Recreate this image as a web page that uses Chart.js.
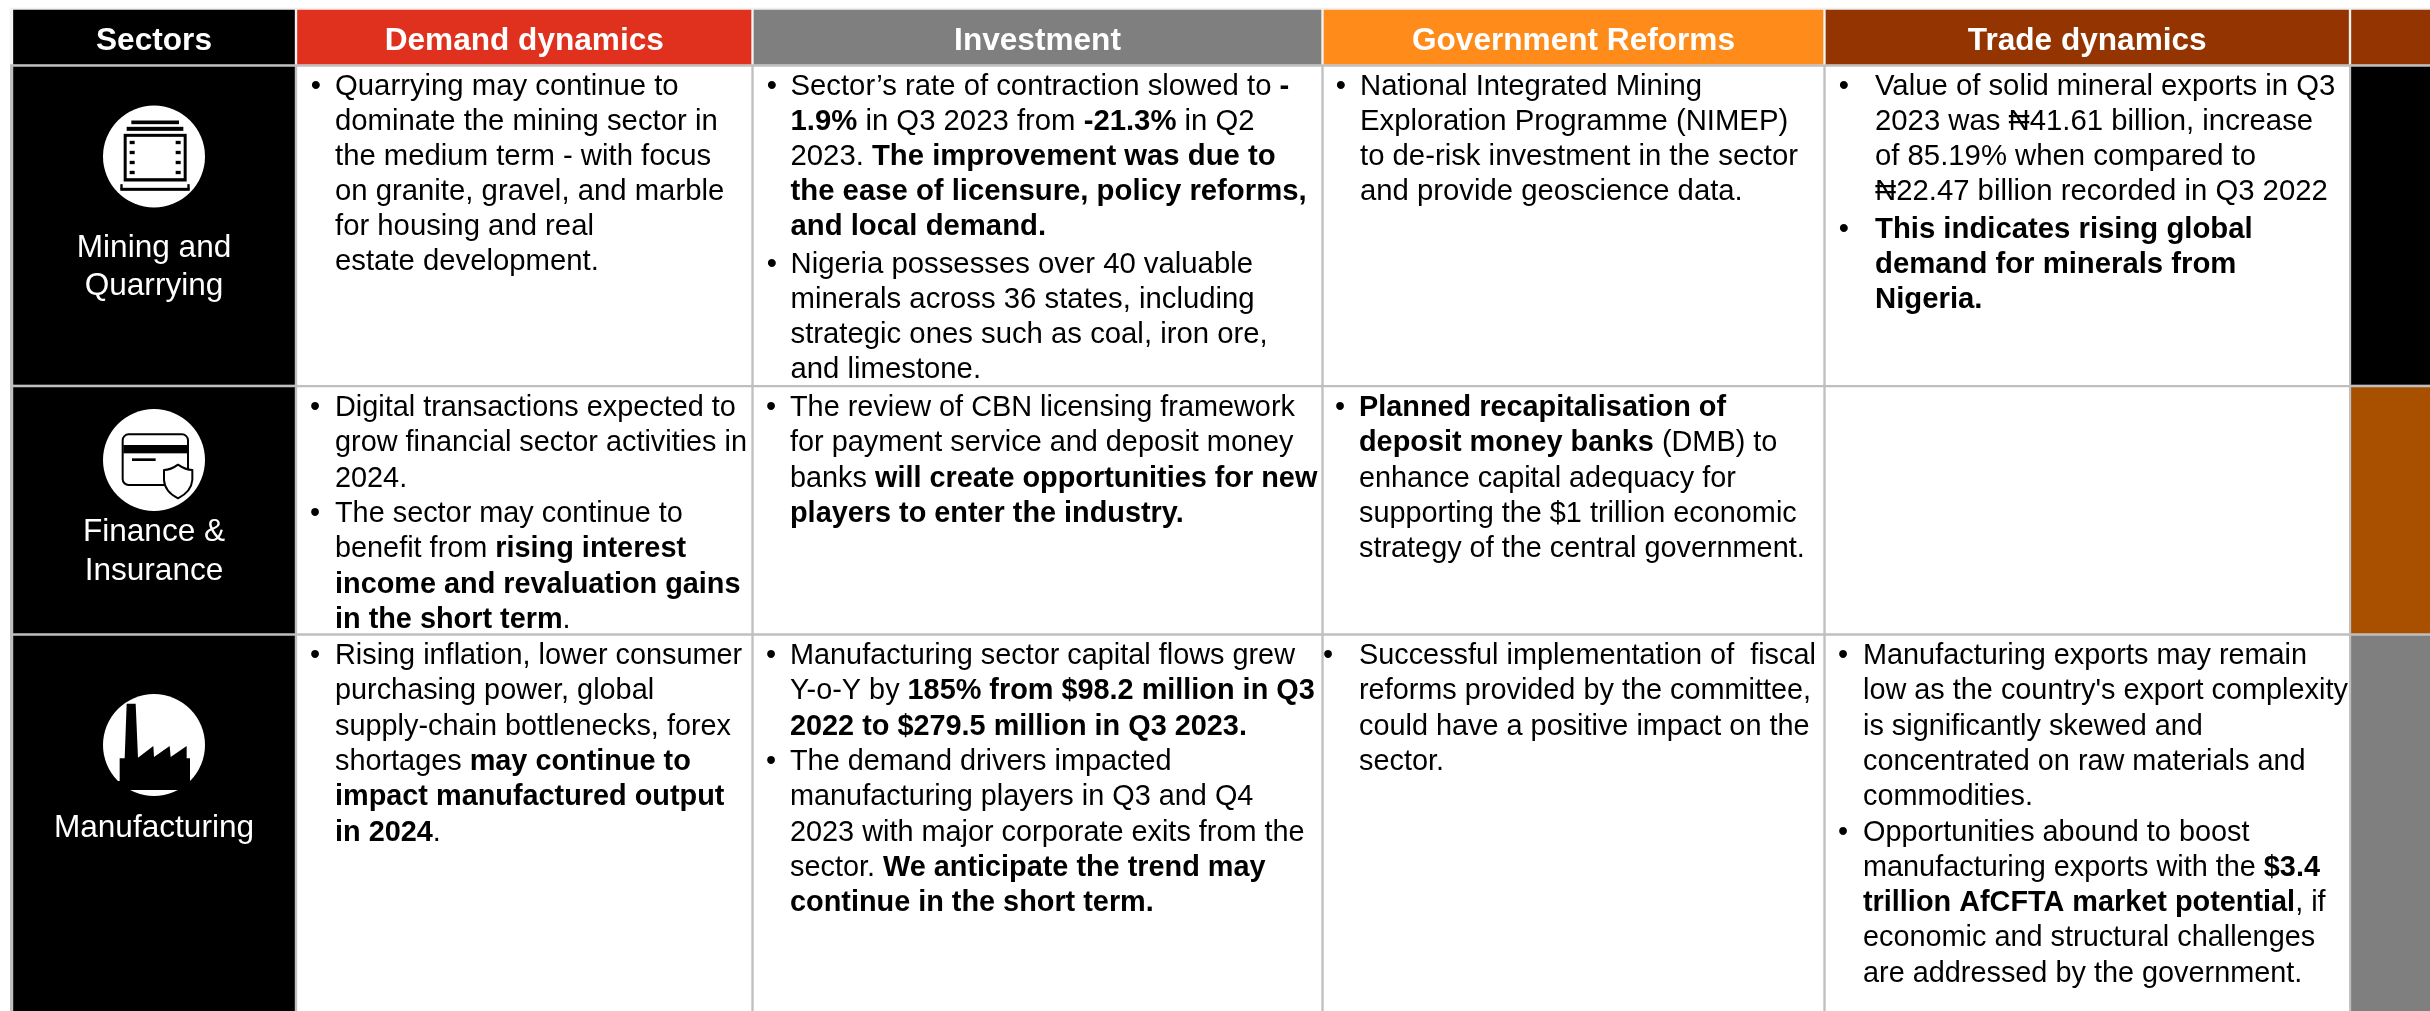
<!DOCTYPE html>
<html>
<head>
<meta charset="utf-8">
<title>Sector outlook</title>
<style>
  html, body { margin: 0; padding: 0; background: #fff; overflow: hidden; }
  canvas { display: block; }
</style>
<script src="https://cdn.jsdelivr.net/npm/chart.js@4"></script>
</head>
<body>
<canvas id="sectorTable" width="2430" height="1011"></canvas>
<script>
const columnHeaders = ["Sectors", "Demand dynamics", "Investment", "Government Reforms", "Trade dynamics", ""];

const sectorNames = [
  ["Mining and", "Quarrying"],
  ["Finance &", "Insurance"],
  ["Manufacturing"],
];

// each cell is a list of bullets, each bullet a list of lines, **x** is bold
const demandCells = [
  [["Quarrying may continue to", "dominate the mining sector in", "the medium term - with focus", "on granite, gravel, and marble", "for housing and real", "estate development."]],
  [["Digital transactions expected to", "grow financial sector activities in", "2024."],
   ["The sector may continue to", "benefit from **rising interest**", "**income and revaluation gains**", "**in the short term**."]],
  [["Rising inflation, lower consumer", "purchasing power, global", "supply-chain bottlenecks, forex", "shortages **may continue to**", "**impact manufactured output**", "**in 2024**."]],
];

const investmentCells = [
  [["Sector’s rate of contraction slowed to **-**", "**1.9%** in Q3 2023 from **-21.3%** in Q2", "2023. **The improvement was due to**", "**the ease of licensure, policy reforms,**", "**and local demand.**"],
   ["Nigeria possesses over 40 valuable", "minerals across 36 states, including", "strategic ones such as coal, iron ore,", "and limestone."]],
  [["The review of CBN licensing framework", "for payment service and deposit money", "banks **will create opportunities for new**", "**players to enter the industry.**"]],
  [["Manufacturing sector capital flows grew", "Y-o-Y by **185% from $98.2 million in Q3**", "**2022 to $279.5 million in Q3 2023.**"],
   ["The demand drivers impacted", "manufacturing players in Q3 and Q4", "2023 with major corporate exits from the", "sector. **We anticipate the trend may**", "**continue in the short term.**"]],
];

const reformCells = [
  [["National Integrated Mining", "Exploration Programme (NIMEP)", "to de-risk investment in the sector", "and provide geoscience data."]],
  [["**Planned recapitalisation of**", "**deposit money banks** (DMB) to", "enhance capital adequacy for", "supporting the $1 trillion economic", "strategy of the central government."]],
  [["Successful implementation of  fiscal", "reforms provided by the committee,", "could have a positive impact on the", "sector."]],
];

const tradeCells = [
  [["Value of solid mineral exports in Q3", "2023 was ₦41.61 billion, increase", "of 85.19% when compared to", "₦22.47 billion recorded in Q3 2022"],
   ["**This indicates rising global**", "**demand for minerals from**", "**Nigeria.**"]],
  [],
  [["Manufacturing exports may remain", "low as the country's export complexity", "is significantly skewed and", "concentrated on raw materials and", "commodities."],
   ["Opportunities abound to boost", "manufacturing exports with the **$3.4**", "**trillion AfCFTA market potential**, if", "economic and structural challenges", "are addressed by the government."]],
];

// layout of the table, in scale units
const columnEdges = [12, 296, 752.5, 1322.5, 1824.5, 2350, 2430];
const rowEdges = [10, 65.5, 386, 634.5, 1011];
const headerColors = ["#000000", "#e0301e", "#7f7f7f", "#ff8c1a", "#933401", "#933401"];
const sideColors = ["#000000", "#a94f00", "#7f7f7f"];
const lineGrey = "#bfbfbf";
const fontFamily = "'Liberation Sans', Arial, sans-serif";

const bodySizes = [29.3, 28.85, 28.85];
const nameSize = 31.6;
const firstBaselines = [95, 416, 664];
const linePitches = [35, 35.3, 35.3];
const bulletGaps = [3.4, 0, 0];
// text and bullet start per column (rows differ a little in the source)
const textStarts = [[335, 335, 335], [790.5, 790, 790], [1360, 1359, 1359], [1875, 0, 1863]];
const bulletCentres = [[316, 315, 315], [772, 771, 771], [1341, 1340, 1328], [1844, 0, 1843]];
const circleCentres = [{ x: 154, y: 156.5 }, { x: 154, y: 460 }, { x: 154, y: 745 }];
const nameBaselines = [[257, 295], [541, 580], [837]];

const centre = (i) => (columnEdges[i] + columnEdges[i + 1]) / 2;
const span = (i) => columnEdges[i + 1] - columnEdges[i];

function cellDataset(i, bodyColor) {
  const colors = [headerColors[i]].concat(bodyColor ? [bodyColor, bodyColor, bodyColor] : sideColors);
  const isLast = i === columnEdges.length - 2;
  return {
    type: "bar",
    data: colors.map((c, r) => ({
      x: isLast ? centre(i) + 0.75 : centre(i),
      y: [
        r === 0 ? rowEdges[0] : rowEdges[r] + 1.5,
        r === colors.length - 1 ? rowEdges[r + 1] : rowEdges[r + 1] - 1.5,
      ],
    })),
    backgroundColor: colors,
    barThickness: isLast ? span(i) - 1.5 : span(i) - 3,
    grouped: false,
    clip: false,
    order: 1,
  };
}

const datasets = [
  // sector icons sit on white discs
  {
    type: "scatter",
    data: circleCentres,
    pointRadius: 51,
    pointHoverRadius: 51,
    pointBackgroundColor: "#fff",
    pointBorderWidth: 0,
    order: 0,
  },
  cellDataset(0, "#000000"),
  cellDataset(1, "#ffffff"),
  cellDataset(2, "#ffffff"),
  cellDataset(3, "#ffffff"),
  cellDataset(4, "#ffffff"),
  cellDataset(5, null),
  // pale band behind the header row, the grid is hidden there
  {
    type: "bar",
    data: [{ x: 1220, y: [8, 10] }, { x: 1220, y: [10, 64] }],
    backgroundColor: ["#f0f0f0", "#f6f4f2"],
    barThickness: 2420,
    grouped: false,
    clip: false,
    order: 2,
  },
];

function drawRuns(ctx, line, x, y, size) {
  line.split("**").forEach((run, i) => {
    if (!run) return;
    ctx.font = (i % 2 ? "bold " : "") + size + "px " + fontFamily;
    ctx.fillText(run, x, y);
    x += ctx.measureText(run).width;
  });
}

function drawCells(ctx, scales, cells, col) {
  cells.forEach((bullets, r) => {
    let y = firstBaselines[r];
    bullets.forEach((lines) => {
      ctx.font = bodySizes[r] + "px " + fontFamily;
      ctx.textAlign = "center";
      ctx.fillText("•", scales.x.getPixelForValue(bulletCentres[col][r]), scales.y.getPixelForValue(y));
      ctx.textAlign = "left";
      lines.forEach((line) => {
        drawRuns(ctx, line, scales.x.getPixelForValue(textStarts[col][r]), scales.y.getPixelForValue(y), bodySizes[r]);
        y += linePitches[r];
      });
      y += bulletGaps[r];
    });
  });
}

// icon shapes are drawn around the disc centre, in thirds of a pixel
function drawMiningIcon(ctx) {
  ctx.fillRect(-68, -108, 143, 11);
  ctx.fillRect(-82, -89, 170, 12);
  ctx.fillRect(-91, -68, 189, 143);
  ctx.fillStyle = "#fff";
  ctx.fillRect(-82, -59, 171, 124);
  ctx.fillStyle = "#000";
  [-47, -17, 13, 43].forEach((y) => {
    ctx.fillRect(-73, y, 15, 10);
    ctx.fillRect(65, y, 15, 10);
  });
  ctx.fillRect(-101, 94, 208, 9);
  ctx.fillRect(-101, 83, 7, 15);
  ctx.fillRect(100, 83, 7, 15);
}

function drawFinanceIcon(ctx) {
  ctx.lineWidth = 6;
  ctx.lineJoin = "round";
  ctx.beginPath();
  ctx.roundRect(-94, -77, 196, 152, 18);
  ctx.stroke();
  ctx.fillRect(-92, -45, 192, 25);
  ctx.fillRect(-66, -5, 71, 8);
  ctx.beginPath();
  ctx.moveTo(72, 14);
  ctx.quadraticCurveTo(95, 30, 115, 30);
  ctx.lineTo(115, 60);
  ctx.quadraticCurveTo(112, 95, 72, 115);
  ctx.quadraticCurveTo(32, 95, 30, 60);
  ctx.lineTo(30, 30);
  ctx.quadraticCurveTo(50, 30, 72, 14);
  ctx.closePath();
  ctx.fillStyle = "#fff";
  ctx.fill();
  ctx.stroke();
}

function drawFactoryIcon(ctx) {
  const outline = [
    [-82, -124], [-55, -124], [-48, 38], [-2, 3], [0, 36], [47, 3], [50, 36], [98, 3], [98, 40],
    [108, 40], [108, 108], [160, 108], [160, 135], [-160, 135], [-160, 108], [-103, 108], [-103, 40], [-88, 40],
  ];
  ctx.beginPath();
  outline.forEach((p, i) => (i ? ctx.lineTo(p[0], p[1]) : ctx.moveTo(p[0], p[1])));
  ctx.closePath();
  ctx.fill();
}

const iconDrawers = [drawMiningIcon, drawFinanceIcon, drawFactoryIcon];

const tableText = {
  id: "tableText",
  afterDatasetsDraw(chart) {
    const { ctx, scales } = chart;
    ctx.save();
    ctx.textBaseline = "alphabetic";

    // header row
    ctx.fillStyle = "#fff";
    ctx.textAlign = "center";
    ctx.font = "bold " + nameSize + "px " + fontFamily;
    columnHeaders.forEach((h, i) => {
      if (h) ctx.fillText(h, scales.x.getPixelForValue(centre(i)), scales.y.getPixelForValue(50));
    });

    // sector names
    ctx.font = nameSize + "px " + fontFamily;
    sectorNames.forEach((lines, r) => {
      lines.forEach((line, k) => {
        ctx.fillText(line, scales.x.getPixelForValue(centre(0)), scales.y.getPixelForValue(nameBaselines[r][k]));
      });
    });

    // icons
    circleCentres.forEach((c, r) => {
      ctx.save();
      ctx.translate(scales.x.getPixelForValue(c.x), scales.y.getPixelForValue(c.y));
      ctx.scale(1 / 3, 1 / 3);
      ctx.fillStyle = "#000";
      ctx.strokeStyle = "#000";
      iconDrawers[r](ctx);
      ctx.restore();
    });

    ctx.fillStyle = "#000";
    [demandCells, investmentCells, reformCells, tradeCells].forEach((cells, col) => drawCells(ctx, scales, cells, col));
    ctx.restore();
  },
};

new Chart(document.getElementById("sectorTable").getContext("2d"), {
  data: { datasets },
  plugins: [tableText],
  options: {
    responsive: false,
    animation: false,
    layout: { autoPadding: false, padding: { left: 10, top: 8 } },
    plugins: { legend: { display: false }, tooltip: { enabled: false } },
    scales: {
      x: {
        type: "linear",
        min: 10,
        max: 2430,
        offset: false,
        ticks: { display: false },
        border: { display: false },
        grid: { offset: false, color: lineGrey, lineWidth: 3, drawTicks: false },
        afterBuildTicks: (axis) => {
          axis.ticks = [11].concat(columnEdges.slice(1, -1)).map((value) => ({ value }));
        },
      },
      y: {
        type: "linear",
        min: 8,
        max: 1011,
        reverse: true,
        ticks: { display: false },
        border: { display: false },
        grid: { color: lineGrey, lineWidth: 3, drawTicks: false },
        afterBuildTicks: (axis) => {
          axis.ticks = rowEdges.slice(1, -1).map((value) => ({ value }));
        },
      },
    },
  },
});
</script>
</body>
</html>
